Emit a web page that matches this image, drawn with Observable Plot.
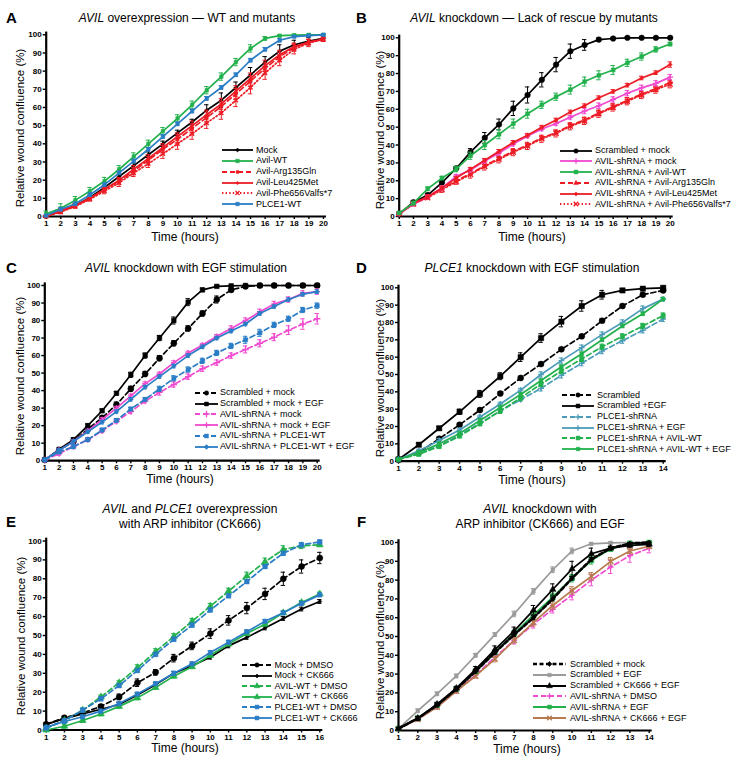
<!DOCTYPE html>
<html><head><meta charset="utf-8">
<script src="https://cdn.jsdelivr.net/npm/d3@7"></script>
<script src="https://cdn.jsdelivr.net/npm/@observablehq/plot@0.6"></script>
<style>
body{margin:0;background:#fff;font-family:"Liberation Sans",Arial,sans-serif;color:#000}
#fig{position:relative;width:744px;height:764px;overflow:hidden;background:#fff}
#fig svg{overflow:visible}
</style></head>
<body><div id="fig"></div>
<script>
// ---------- DATA ----------
const hours20 = [1,2,3,4,5,6,7,8,9,10,11,12,13,14,15,16,17,18,19,20];
const hours14 = [1,2,3,4,5,6,7,8,9,10,11,12,13,14];
const hours16 = [1,2,3,4,5,6,7,8,9,10,11,12,13,14,15,16];
const yTicks = [0,10,20,30,40,50,60,70,80,90,100];

// Panel A
const aMock = [0,3,6,10.5,16,22,28,34,40,46,52,58.5,64,71,78,85,91,94.5,96.5,98];
const aMockErr = [0.5,1,1,1,1,1,1.5,1.5,1.5,1.5,1.5,3,4,3,4,3,3.5,2.5,2,1.5];
const aWT = [1.5,4.5,9,14,19.5,26,33,40,47,54,61.5,69.5,77,85,92.5,98,99.5,99.8,100,100];
const aWTErr = [1.5,2.5,2,2,2,2,2,2,2,2,2,2,2,2,2,1,0.5,0.5,0.5,0.5];
const aArg = [0,3,6,10,15,19.5,25,31,37,42.5,48.5,54.5,60.5,67.5,74.5,81.5,88,93,96,98];
const aArgErr = [0.5,1,1,1,1,1.5,2,2,2,2.5,2.5,3,3,3,3,3,2.5,2,1.5,1];
const aLeu = [0,3,6,10,15,20,26,32,38,44,50,56,62,69,76,83,89,93.5,96,97.5];
const aLeuErr = [0.5,1,1,1,1,1.5,2,2,2,2,2.5,2.5,3,3,3,3,2.5,2,1.5,1];
const aPhe = [0,2.5,5.5,9.5,14,18.5,24,29,34.5,40,45.5,51.5,57,64,71,79,86,92,95.5,97.5];
const aPheErr = [0.5,1,1,1,1.5,2,2,2,2.5,3,3,3,3.5,3.5,3.5,3.5,3,2.5,2,1];
const aPlce = [0.5,4,7,12,17.5,24,30.5,37,44,51,58,65,71,78,86,92,97,99,99.5,100];
const aPlceErr = [0.5,1,1,1,1,1,1,1,1,1,1,1,1,1,1,1,1,0.5,0.5,0.5];

// Panel B
const bScr = [1.5,8,12,19,27,36,44,51.5,60.5,68,76.5,85,92.5,96,99,99.6,100,100,100,100];
const bScrErr = [0.5,1,1,1,1,2,3,3,4,4.5,4,4,4,3,1,0.5,0.3,0.3,0.3,0.3];
const bMock = [1.5,7,11,16,22.5,26,31,35.5,40.5,45,49,52,55.5,59,62,65.5,69,72,74.5,78];
const bMockErr = [0.5,1,1,1,1,1,1,1,1,1,1,1,1,1.5,1.5,1.5,1.5,1.5,1.5,1.5];
const bWT = [2,7.5,15.5,21.5,26.5,34,40,46,52,57.5,62.5,67,71,75.5,79,82,86,89.5,93.5,96.5];
const bWTErr = [0.5,1,1,1,1.5,2,2.5,2.5,2.5,2.5,2,2,2.5,2.5,2.5,2.5,2,2,1.5,1];
const bArg = [1.5,7,11,15.5,20,24,28.5,32.5,36.5,40,44,47,51,54,58,61.5,65,68.5,71.5,75];
const bArgErr = [0.5,1,1,1,1,1,1,1,1,1,1,1,1,1.5,1.5,1.5,1.5,1.5,1.5,1.5];
const bLeu = [1.5,7.5,11,16,21.5,26.5,31.5,36.5,41.5,45.5,50,54,58.5,62,66.5,70,73.5,77.5,80.5,85];
const bLeuErr = [0.5,1,1,1,1,1,1,1,1,1,1,1,1,1,1,1,1,1,1,1.5];
const bPhe = [1.5,7,10.5,15,19.5,23.5,28,32,36,39.5,43.5,46.5,50.5,53.5,57.5,61,64.5,68,71,74];
const bPheErr = [0.5,1,1,1.5,1.5,2,2,2,2,2,2,2,2,2,2,2,2,2,2,2];

// Panel C
const cScr = [0.5,6,11,18,24.5,32,41,49.5,58.5,67,75.5,84,92,97.5,99.5,100,100,100,100,100];
const cScrErr = [0.3,0.5,1,1,1,1.5,1.5,1.5,1.5,1.5,1.5,1.5,2,1,0.5,0.3,0.3,0.3,0.3,0.3];
const cScrEGF = [0.5,6.5,12,20,28.5,38.5,49,60,70,80,90.5,97.5,99.5,99.8,100,100,100,100,100,100];
const cScrEGFErr = [0.3,0.5,1,1,1,1,1.5,1.5,1.5,2,2,1,0.5,0.3,0.3,0.3,0.3,0.3,0.3,0.3];
const cMock = [0.5,4,8,12,17,22.5,28,34,39,43.5,48,52.5,56,60,63.5,67,70.5,74.5,78,81];
const cMockErr = [0.3,1,1,1,1,1,1,1,1.5,1.5,1.5,1.5,1.5,1.5,2,2,2,2.5,3,3];
const cMockEGF = [0.5,6,11,17,23.5,30,37,44,49.5,56,61.5,66,71,75.5,80,85,89.5,92,95.5,96.5];
const cMockEGFErr = [0.3,1,1,1,1,1,1,1,1,1,1,1,1,1.5,1.5,1.5,1.5,1.5,1.5,1.5];
const cPlce = [0.5,5,8,12,17.5,23,29.5,35,41,47,52,57,61.5,65.5,69,73,77.5,81,86,88.5];
const cPlceErr = [0.3,1,1,1,1,1,1,1,1.5,1.5,1.5,1.5,1.5,1.5,2,2,1.5,1.5,1.5,1.5];
const cPlceEGF = [0.5,6,11,16.5,22,28,35,42,48,54,60,65,70,74,78,84,88,92,95,96.5];
const cPlceEGFErr = [0.3,1,1,1,1,1,1,1,1,1,1,1,1,1,1,1,1,1,1,1];

// Panel D
const dScr = [1,5,13,21,29.5,39,48,56,64.5,72,81,89.5,96,98.5];
const dScrErr = [0.3,0.8,1,1,1,1,1,1,1,1,1,1,1,1];
const dScrEGF = [1,9.5,19,28.5,38.8,49,60,71,80.5,89.5,96,98.5,99.5,100];
const dScrEGFErr = [0.3,1,1,1.5,2,2,2.5,2.5,3,3,2.5,1,0.5,0.5];
const dPl = [1,4.5,9,15,22,29,35.5,42,49.5,56.5,63.5,69.5,75.5,82];
const dPlErr = [0.3,1,1,1,1,1,1,1.5,1.5,1.5,1.5,1.5,1.5,1.5];
const dPlEGF = [1,6,12,18,25.5,33,41,50,58,65.5,73,80,88,93.5];
const dPlEGFErr = [0.3,1,1,1,1,1,1,1.5,1.5,1.5,1.5,1.5,1.5,1];
const dAv = [1,4,8.5,14.5,21.5,29,36.5,44.5,52,59,66,72,78,84];
const dAvErr = [0.3,1,1,1,1,1.5,1.5,1.5,1.5,1.5,1.5,1.5,1.5,1.5];
const dAvEGF = [1,5,10,16,23.5,31,38.5,46.5,54.5,62,70,78,85,93.5];
const dAvEGFErr = [0.3,1,1,1,1,1,1,1,1,1,1,1,1,1];

// Panel E
const eMockD = [3,6.5,9,12.5,17.5,25,30.5,38,44.5,51,58,64.5,72,80,86.5,91];
const eMockDErr = [1,1,1,1,1.5,2,1.5,2,2,2.5,2.5,3,3,3.5,3.5,3];
const eMockC = [3,6,8.5,11,13.5,18.5,24,30,34,38.5,44.5,49,54,59,64,68];
const eMockCErr = [0.5,1,1,1,1,1,1,1,1,1,1,1,1,1,1,1];
const eAvD = [1,5,10.5,17.5,25,33,41.5,49.5,57.5,65.5,73.5,81.5,89,95.5,97.5,98];
const eAvDErr = [0.5,1,1,1,1,1.5,1.5,1.5,1.5,1.5,1.5,2,2,2,1.5,1];
const eAvC = [0,2,5,8.5,12.5,17,22.5,28.5,33.5,39.5,45.5,51,56,62,67.5,72];
const eAvCErr = [0.5,1,1,1,1,1,1,1,1,1,1,1,1,1,1,1];
const ePlD = [1,5,10.5,16.5,23.5,31.5,40,48,55.5,63.5,71,78.5,86.5,93.5,98,99.5];
const ePlDErr = [0.5,1,1,1,1,1,1,1,1,1,1,1,1,1,1,1];
const ePlC = [1.5,4.5,7,10,14,19,24.5,30,35,41,46.5,52,57.5,62,67,71.5];
const ePlCErr = [0.5,1,1,1,1,1,1,1,1,1,1,1,1,1,1,1];

// Panel F
const fScr = [1,6.5,13.5,22,31.5,41.5,51,60,70,81,91,97,99.5,100];
const fScrErr = [0.5,1,1,1,1,1,1,1,1,1,1,1,0.5,0.5];
const fEGF = [1,10.5,19.5,29,40,51,62,74,85.5,95.5,99.3,99.8,100,100];
const fEGFErr = [0.5,1,1,1,1,1,1.5,1.5,1.5,1.5,0.5,0.5,0.5,0.5];
const fCK = [1,6.5,14,22.5,32.5,43,53,64,75,86,94,97,98.5,99];
const fCKErr = [0.5,1,1,1,1.5,2,2,2.5,3,4,3,1,1,1];
const fShD = [1,6,12.5,21,29.5,39,48,56.5,64.5,72,80,87,93,97];
const fShDErr = [0.5,1,1,1,1.5,1.5,2,2,2,2.5,3,3.5,3.5,2.5];
const fShE = [1,6.5,13.5,22,31.5,41.5,51.5,61.5,71,81,90.5,96.5,99.5,100];
const fShEErr = [0.5,1,1,1,1,1,1.5,1.5,2,2,2,1,0.5,0.5];
const fShC = [1,6,12.5,21,29,38,48,57.5,66.5,74.5,82,90,95.5,98];
const fShCErr = [0.5,1,1,1,1,1.5,1.5,2,2,2,2,2,1.5,1];

// ---------- STYLE ----------
const C = {black:"#000000", green:"#22b14c", red:"#ed1c24", blue:"#2a7dc6", magenta:"#f04ad0", teal:"#4c9cb8", gray:"#9b9b9b", brown:"#b67a4c"};
const DASH = "5,3", DOT = "1.4,2.2";
const SYM = {circle:d3.symbolCircle, square:d3.symbolSquare, diamond:d3.symbolDiamond2, triangle:d3.symbolTriangle, times:d3.symbolTimes, plus:d3.symbolPlus};
const FONT = '"Liberation Sans", Arial, Helvetica, sans-serif';

const panels = [
  {box:[0,0,372,250], px:[45.7,323], py:[216,34.3], hours:hours20,
   series:[
    {name:"Mock", color:C.black, sym:"diamond", r:1.8, values:aMock, err:aMockErr},
    {name:"Avil-WT", color:C.green, sym:"square", r:2, values:aWT, err:aWTErr},
    {name:"Avil-Arg135Gln", color:C.red, dash:DASH, sym:"square", r:1.6, values:aArg, err:aArgErr},
    {name:"Avil-Leu425Met", color:C.red, sym:"diamond", r:1.6, values:aLeu, err:aLeuErr},
    {name:"Avil-Phe656Valfs*7", color:C.red, dash:DOT, sym:"times", r:2, values:aPhe, err:aPheErr},
    {name:"PLCE1-WT", color:C.blue, sym:"square", r:2, values:aPlce, err:aPlceErr}],
   legend:{x:222, y:150, len:31, tx:256, dy:10.85}},
  {box:[372,0,372,250], px:[398.7,669.7], py:[216,37.3], hours:hours20,
   series:[
    {name:"Scrambled + mock", color:C.black, sym:"circle", r:2.8, values:bScr, err:bScrErr},
    {name:"AVIL-shRNA + mock", color:C.magenta, sym:"plus", r:2, values:bMock, err:bMockErr},
    {name:"AVIL-shRNA + Avil-WT", color:C.green, sym:"square", r:2.2, values:bWT, err:bWTErr},
    {name:"AVIL-shRNA + Avil-Arg135Gln", color:C.red, dash:DASH, sym:"triangle", r:1.8, values:bArg, err:bArgErr},
    {name:"AVIL-shRNA + Avil-Leu425Met", color:C.red, sym:"diamond", r:1.8, values:bLeu, err:bLeuErr},
    {name:"AVIL-shRNA + Avil-Phe656Valfs*7", color:C.red, dash:DOT, sym:"times", r:2.4, values:bPhe, err:bPheErr}],
   order:[0,3,5,1,4,2],
   legend:{x:560, y:150.7, len:32, tx:595, dy:10.7}},
  {box:[0,250,372,250], px:[44.3,316.7], py:[460.2,285], hours:hours20,
   series:[
    {name:"Scrambled + mock", color:C.black, dash:DASH, sym:"circle", r:3, values:cScr, err:cScrErr},
    {name:"Scrambled + mock + EGF", color:C.black, sym:"square", r:2.6, values:cScrEGF, err:cScrEGFErr},
    {name:"AVIL-shRNA + mock", color:C.magenta, dash:DASH, sym:"plus", r:2.2, values:cMock, err:cMockErr},
    {name:"AVIL-shRNA + mock + EGF", color:C.magenta, sym:"plus", r:2, values:cMockEGF, err:cMockEGFErr},
    {name:"AVIL-shRNA + PLCE1-WT", color:C.blue, dash:DASH, sym:"square", r:2.4, values:cPlce, err:cPlceErr},
    {name:"AVIL-shRNA + PLCE1-WT + EGF", color:C.blue, sym:"diamond", r:2.2, values:cPlceEGF, err:cPlceEGFErr}],
   legend:{x:195, y:392.7, len:23, tx:220, dy:10.8}},
  {box:[372,250,372,250], px:[398,662.7], py:[460.7,287.3], hours:hours14,
   series:[
    {name:"Scrambled", color:C.black, dash:DASH, sym:"circle", r:3, values:dScr, err:dScrErr},
    {name:"Scrambled +EGF", color:C.black, sym:"square", r:3, values:dScrEGF, err:dScrEGFErr},
    {name:"PLCE1-shRNA", color:C.teal, dash:DASH, sym:"plus", r:2, values:dPl, err:dPlErr},
    {name:"PLCE1-shRNA + EGF", color:C.teal, sym:"plus", r:2, values:dPlEGF, err:dPlEGFErr},
    {name:"PLCE1-shRNA + AVIL-WT", color:C.green, dash:DASH, sym:"square", r:2.4, values:dAv, err:dAvErr},
    {name:"PLCE1-shRNA + AVIL-WT + EGF", color:C.green, sym:"square", r:2, values:dAvEGF, err:dAvEGFErr}],
   legend:{x:562, y:395, len:32, tx:597, dy:10.85}},
  {box:[0,500,372,264], px:[45.7,319.3], py:[729.5,540.5], hours:hours16,
   series:[
    {name:"Mock + DMSO", color:C.black, dash:DASH, sym:"circle", r:3, values:eMockD, err:eMockDErr},
    {name:"Mock + CK666", color:C.black, sym:"diamond", r:1.8, values:eMockC, err:eMockCErr},
    {name:"AVIL-WT + DMSO", color:C.green, dash:DASH, sym:"triangle", r:2.6, values:eAvD, err:eAvDErr},
    {name:"AVIL-WT + CK666", color:C.green, sym:"triangle", r:2.6, values:eAvC, err:eAvCErr},
    {name:"PLCE1-WT + DMSO", color:C.blue, dash:DASH, sym:"square", r:2.6, values:ePlD, err:ePlDErr},
    {name:"PLCE1-WT + CK666", color:C.blue, sym:"square", r:2.4, values:ePlC, err:ePlCErr}],
   legend:{x:242, y:665, len:30, tx:274.5, dy:10.6}},
  {box:[372,500,372,264], px:[398,648.7], py:[730,542], hours:hours14,
   series:[
    {name:"Scrambled + mock", color:C.black, dash:"4,2.5", sw:2.6, sym:"diamond", r:2.2, values:fScr, err:fScrErr},
    {name:"Scrambled + EGF", color:C.gray, sym:"square", r:2, values:fEGF, err:fEGFErr},
    {name:"Scrambled + CK666 + EGF", color:C.black, sym:"triangle", r:2.4, values:fCK, err:fCKErr},
    {name:"AVIL-shRNA + DMSO", color:C.magenta, dash:DASH, sym:"plus", r:2, values:fShD, err:fShDErr},
    {name:"AVIL-shRNA + EGF", color:C.green, sym:"square", r:2.8, values:fShE, err:fShEErr},
    {name:"AVIL-shRNA + CK666 + EGF", color:C.brown, sym:"times", r:2.6, values:fShC, err:fShCErr}],
   order:[1,3,5,4,2,0],
   legend:{x:533, y:664, len:33, tx:570, dy:10.8}}
];

const titles = [
  {html:"<i>AVIL</i> overexpression — WT and mutants", cx:187, cy:18},
  {html:"<i>AVIL</i> knockdown — Lack of rescue by mutants", cx:534, cy:18},
  {html:"<i>AVIL</i> knockdown with EGF stimulation", cx:186, cy:268},
  {html:"<i>PLCE1</i> knockdown with EGF stimulation", cx:532, cy:268},
  {html:"<i>AVIL</i> and <i>PLCE1</i> overexpression<br>with ARP inhibitor (CK666)", cx:190, cy:509},
  {html:"<i>AVIL</i> knockdown with<br>ARP inhibitor (CK666) and EGF", cx:540, cy:509}
];
const letters = [["A",6,18],["B",356,18],["C",6,268],["D",356,268],["E",6,522],["F",357,522]];
const yLabelPos = [[20,128],[380,130],[20,376],[380,378],[21,636],[380,640]];
const xLabelPos = [[185,237],[532,237],[180,479],[532,480],[185,748],[527,749]];
const yLabelText = "Relative wound confluence (%)";
const xLabelText = "Time (hours)";

// ---------- RENDER ----------
const fig = document.getElementById("fig");
function addDiv(html, css){
  const d = document.createElement("div");
  d.innerHTML = html;
  Object.assign(d.style, {position:"absolute", whiteSpace:"nowrap"}, css);
  fig.appendChild(d);
  return d;
}

function dotOpts(s){
  const stroked = s.sym === "times" || s.sym === "plus";
  return {x:"t", y:"v", symbol:SYM[s.sym], r:s.r,
    fill: stroked ? "none" : s.color, stroke: s.color, strokeWidth: stroked ? 1.4 : 0.5};
}

for (const P of panels){
  const [L,T,W,H] = P.box;
  const n = P.hours.length;
  const t0 = P.hours[0], tN = P.hours[n-1];
  const ppu = (P.px[1]-P.px[0])/(tN-t0);
  const cap = 2.2/ppu;
  const marks = [
    Plot.axisX({ticks:P.hours, tickSize:3, tickPadding:1, fontSize:8, fontWeight:"bold", tickFormat:d=>String(d), label:null, strokeWidth:1.4}),
    Plot.axisY({ticks:yTicks, tickSize:3, tickPadding:1.5, fontSize:8, fontWeight:"bold", tickFormat:d=>String(d), label:null, strokeWidth:1.4}),
    Plot.ruleY([0], {x1:t0, x2:tN + 3/ppu, stroke:"#000", strokeWidth:2.2}),
    Plot.ruleX([t0], {y1:0, y2:101.5, stroke:"#000", strokeWidth:2.2})
  ];
  const order = P.order || P.series.map((_,i)=>i);
  for (const i of order){
    const s = P.series[i];
    const d = s.values.map((v,k)=>({t:P.hours[k], v, e:s.err[k]}));
    marks.push(Plot.line(d, {x:"t", y:"v", stroke:s.color, strokeWidth:s.sw||1.7, strokeDasharray:s.dash||null}));
    marks.push(Plot.ruleX(d, {x:"t", y1:r=>r.v-r.e, y2:r=>r.v+r.e, stroke:s.color, strokeWidth:1}));
    marks.push(Plot.ruleY(d, {y:r=>r.v+r.e, x1:r=>r.t-cap, x2:r=>r.t+cap, stroke:s.color, strokeWidth:1}));
    marks.push(Plot.ruleY(d, {y:r=>r.v-r.e, x1:r=>r.t-cap, x2:r=>r.t+cap, stroke:s.color, strokeWidth:1}));
    marks.push(Plot.dot(d, dotOpts(s)));
  }
  const svg = Plot.plot({
    width:W, height:H,
    marginLeft:P.px[0]-L, marginRight:L+W-P.px[1],
    marginTop:P.py[1]-T, marginBottom:T+H-P.py[0],
    x:{domain:[t0,tN]}, y:{domain:[0,100]},
    style:{fontFamily:FONT, background:"transparent", overflow:"visible", color:"#000"},
    marks
  });
  const wrap = addDiv("", {left:L+"px", top:T+"px", width:W+"px", height:H+"px"});
  wrap.appendChild(svg);

  // legend
  const lg = P.legend;
  P.series.forEach((s,i)=>{
    const row = addDiv("", {left:lg.x+"px", top:(lg.y + i*lg.dy - 5.5)+"px", height:"11px", display:"flex", alignItems:"center", fontSize:"9px", fontFamily:FONT, lineHeight:"11px"});
    const sw = d3.create("svg").attr("width", lg.len).attr("height", 10).style("overflow","visible").style("flex","none");
    sw.append("line").attr("x1",0).attr("x2",lg.len).attr("y1",5).attr("y2",5)
      .attr("stroke",s.color).attr("stroke-width",s.sw||1.8).attr("stroke-dasharray",s.dash||null);
    const stroked = s.sym === "times" || s.sym === "plus";
    const lr = Math.min(s.r, 2.2);
    sw.append("path").attr("d", d3.symbol(SYM[s.sym], Math.PI*lr*lr)())
      .attr("transform", `translate(${lg.len/2},5)`)
      .attr("fill", stroked ? "none" : s.color).attr("stroke", s.color).attr("stroke-width", stroked?1.3:0.5);
    row.appendChild(sw.node());
    const sp = document.createElement("span");
    sp.textContent = s.name;
    sp.style.marginLeft = (lg.tx - lg.x - lg.len) + "px";
    row.appendChild(sp);
  });
}

titles.forEach(t=>addDiv(t.html, {left:t.cx+"px", top:(t.cy-7.5)+"px", transform:"translateX(-50%)", fontSize:"12px", lineHeight:"15px", textAlign:"center", fontFamily:FONT}));
letters.forEach(([l,x,y])=>addDiv(l, {left:x+"px", top:(y-9)+"px", fontSize:"15px", lineHeight:"18px", fontWeight:"bold", fontFamily:FONT}));
yLabelPos.forEach(([x,y])=>addDiv(yLabelText, {left:x+"px", top:y+"px", transform:"translate(-50%,-50%) rotate(-90deg)", fontSize:"11.5px", lineHeight:"13px", fontFamily:FONT}));
xLabelPos.forEach(([x,y])=>addDiv(xLabelText, {left:x+"px", top:y+"px", transform:"translate(-50%,-50%)", fontSize:"12px", lineHeight:"14px", fontFamily:FONT}));
</script>
</body></html>
